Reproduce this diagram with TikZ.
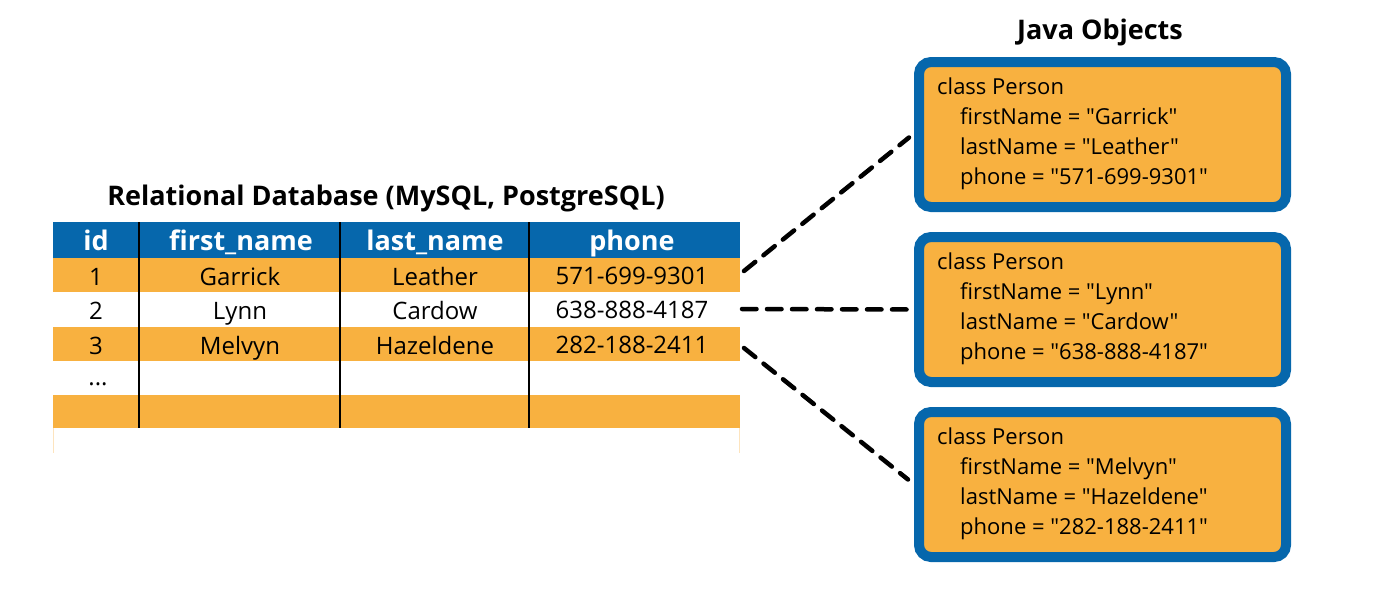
\documentclass[tikz,border=0pt]{standalone}
\usepackage{fontspec}
\setmainfont{Open Sans}[Ligatures=TeXOff]
\definecolor{dbblue}{RGB}{6,103,172}
\definecolor{dborange}{RGB}{248,177,64}
\definecolor{faintorange}{RGB}{253,228,190}
\begin{document}
\begin{tikzpicture}[x=1pt,y=-1pt,
  title/.style={font=\fontsize{27}{31}\selectfont\bfseries, inner sep=0pt, anchor=base},
  head/.style={font=\fontsize{27}{31}\selectfont\bfseries, text=white, inner sep=0pt, anchor=base},
  cell/.style={font=\fontsize{24}{28}\selectfont, inner sep=0pt, anchor=base},
  pbox/.style={draw=dbblue, fill=dborange, line width=10pt, rounded corners=12pt,
    minimum width=367pt, minimum height=145pt, inner sep=0pt},
  ptext/.style={font=\fontsize{22}{26}\selectfont, inner sep=0pt, anchor=base west},
  link/.style={line width=4.5pt, dash pattern=on 14.5pt off 10.5pt, line cap=round}]
\useasboundingbox (0,0) rectangle (1400,589);
% table backgrounds
\fill[dbblue] (53,222) rectangle (740,258);
\fill[dborange] (53,258) rectangle (740,292);
\fill[dborange] (53,327) rectangle (740,361);
\fill[dborange] (53,395) rectangle (740,428);
\draw[faintorange, line width=1pt] (53.5,428) -- (53.5,453) (739.5,428) -- (739.5,453);
% column dividers
\foreach \cx in {139,340,529} \draw[line width=2pt] (\cx,222) -- (\cx,428);
% titles
\node[title] (dbtitle) at (386,205) {Relational Database (MySQL, PostgreSQL)};
\node[title] (jtitle) at (1100,39) {Java Objects};
% header
\node[head] (hid) at (96,250) {id};
\node[head] (hfirst) at (241,250) {first\_name};
\node[head] (hlast) at (435,250) {last\_name};
\node[head] (hphone) at (632,250) {phone};
% rows
\node[cell] (r1a) at (96,285) {1};
\node[cell] (r1b) at (240,285) {Garrick};
\node[cell] (r1c) at (435,285) {Leather};
\node[cell] (r1d) at (632,284) {571-699-9301};
\node[cell] (r2a) at (96,319) {2};
\node[cell] (r2b) at (240,319) {Lynn};
\node[cell] (r2c) at (435,319) {Cardow};
\node[cell] (r2d) at (632,318) {638-888-4187};
\node[cell] (r3a) at (96,354) {3};
\node[cell] (r3b) at (240,354) {Melvyn};
\node[cell] (r3c) at (435,354) {Hazeldene};
\node[cell] (r3d) at (632,353) {282-188-2411};
\node[cell] (r4a) at (98,385) {...};
% java object boxes
\node[pbox] (p1) at (1102.5,134.5) {};
\node[pbox] (p2) at (1102.5,309.5) {};
\node[pbox] (p3) at (1102.5,484.5) {};
\node[ptext] (p1l1) at (937,94) {class Person};
\node[ptext] (p1l2) at (960,124) {firstName = "Garrick"};
\node[ptext] (p1l3) at (960,154) {lastName = "Leather"};
\node[ptext] (p1l4) at (960,184) {phone = "571-699-9301"};
\node[ptext] (p2l1) at (937,269) {class Person};
\node[ptext] (p2l2) at (960,299) {firstName = "Lynn"};
\node[ptext] (p2l3) at (960,329) {lastName = "Cardow"};
\node[ptext] (p2l4) at (960,359) {phone = "638-888-4187"};
\node[ptext] (p3l1) at (937,444) {class Person};
\node[ptext] (p3l2) at (960,474) {firstName = "Melvyn"};
\node[ptext] (p3l3) at (960,504) {lastName = "Hazeldene"};
\node[ptext] (p3l4) at (960,534) {phone = "282-188-2411"};
% connectors
\coordinate (s1) at (744,271);
\coordinate (s2) at (742,309);
\coordinate (s3) at (744,348);
\draw[link] (s1) -- ([xshift=-5pt,yshift=-3pt]p1.west);
\draw[link] (s2) -- ([xshift=-5pt]p2.west);
\draw[link] (s3) -- ([xshift=-6pt,yshift=5pt]p3.west);
\end{tikzpicture}
\end{document}
